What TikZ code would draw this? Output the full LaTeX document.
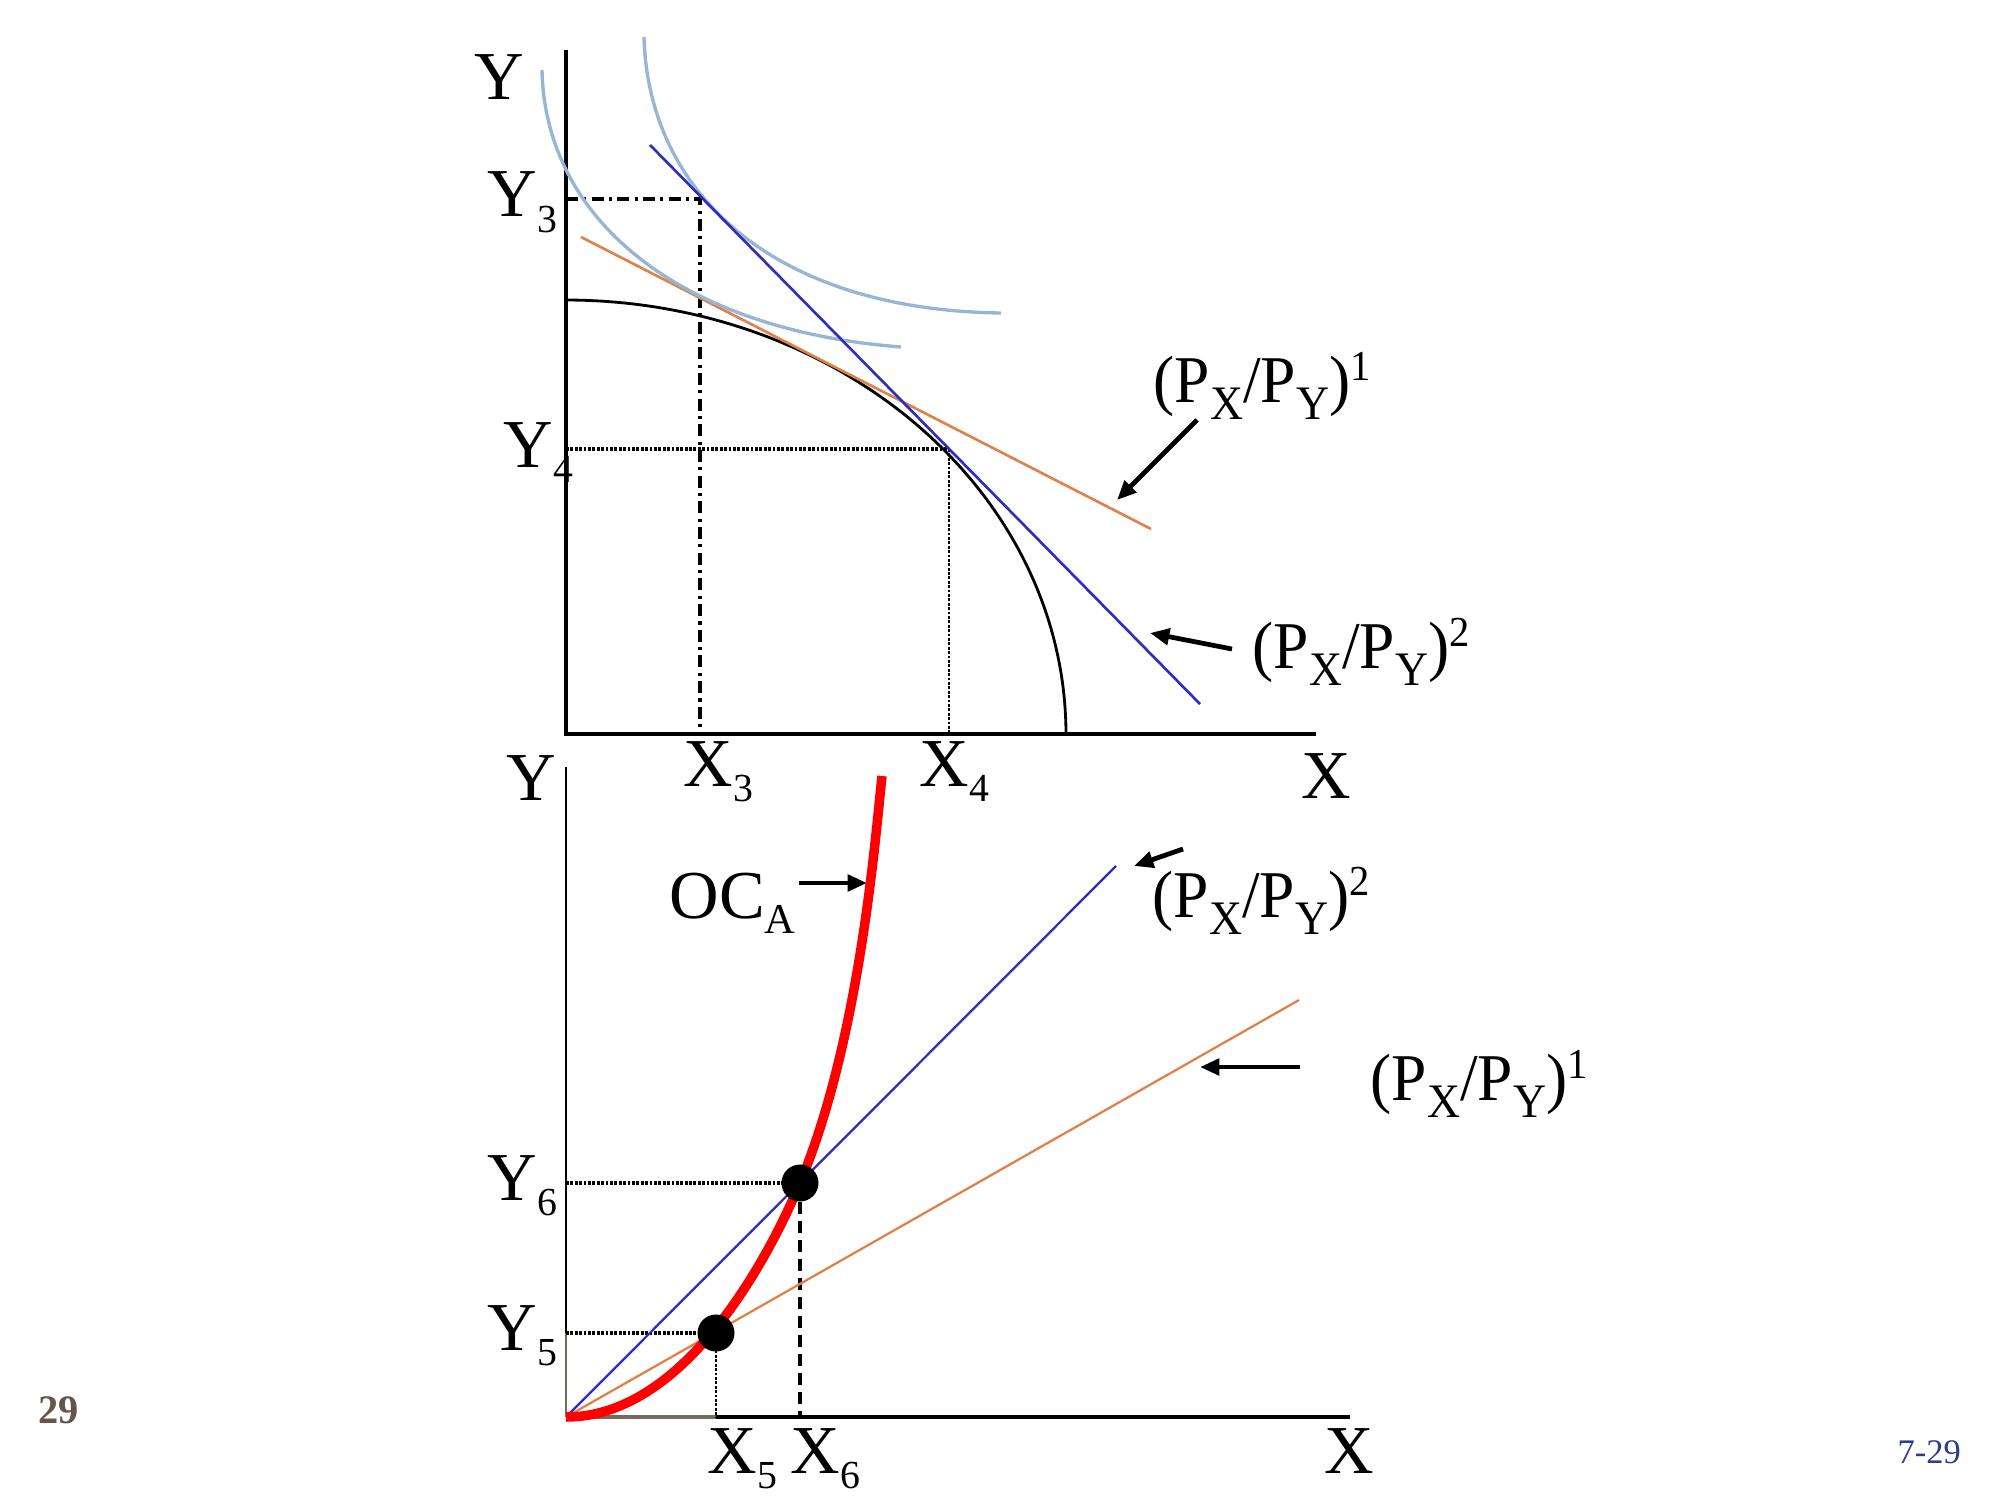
\documentclass[tikz,border=0pt]{standalone}
\usepackage{fontspec}
\setmainfont{Liberation Serif}
\usepackage{graphicx}
\usetikzlibrary{arrows.meta}
\definecolor{lineorange}{RGB}{221,130,74}
\definecolor{lineblue}{RGB}{45,45,195}
\definecolor{icblue}{RGB}{150,182,212}
\definecolor{ocred}{RGB}{255,0,0}
\definecolor{axbrown}{RGB}{120,105,95}
\definecolor{pagebrown}{RGB}{100,85,75}
\definecolor{pageblue}{RGB}{45,60,140}
\newcommand{\lo}[2][0.58]{\raisebox{-0.22em}{\scalebox{#1}{#2}}}
\newcommand{\psub}[1]{\raisebox{-0.26em}{\scalebox{0.72}{#1}}}
\newcommand{\psup}[1]{\raisebox{0.32em}{\scalebox{0.64}{#1}}}
\newcommand{\pr}[1]{\scalebox{0.95}[1]{(P\psub{X}/P\psub{Y})\psup{#1}}}
\begin{document}
\begin{tikzpicture}[x=0.01cm,y=-0.01cm,
  axislbl/.style={font=\fontsize{19.5}{22}\selectfont, inner sep=0, anchor=base west},
  pricelbl/.style={font=\fontsize{19}{22}\selectfont, inner sep=0, anchor=base west},
  axisline/.style={line width=0.9pt, black},
  ppfline/.style={line width=0.8pt, black},
  budget1/.style={line width=0.75pt, lineorange},
  budget2/.style={line width=0.75pt, lineblue},
  icurve/.style={line width=0.95pt, icblue},
  dashdotline/.style={line width=1.1pt, dash pattern=on 3.4pt off 1.5pt on 0.9pt off 1.5pt},
  dotline/.style={line width=1pt, dash pattern=on 0.8pt off 0.45pt},
  finedot/.style={line width=0.6pt, dash pattern=on 0.8pt off 0.45pt},
  dashline/.style={line width=1pt, dash pattern=on 3.4pt off 2pt},
  pointer/.style={line width=1.35pt, -{Triangle[length=5.5pt,width=4.6pt]}},
  ocline/.style={line width=2.7pt, ocred},
  bigdot/.style={circle, fill=black, minimum size=37*0.01cm, inner sep=0}
]
\useasboundingbox (0,0) rectangle (2000,1500);

% ---------------- upper panel ----------------
\coordinate (O1) at (566,734);
\coordinate (Ytop1) at (566,50);
\coordinate (Xend1) at (1316,734);
\draw[axisline] (Ytop1) -- (O1) -- (Xend1);

% guide lines
\coordinate (Y3p) at (566,199);
\coordinate (C3) at (700,199);
\coordinate (X3p) at (700,734);
\draw[dashdotline] (Y3p) -- (C3) -- (X3p);
\coordinate (Y4p) at (566,449);
\coordinate (C4) at (949,449);
\coordinate (X4p) at (949,734);
\draw[dotline] (Y4p) -- (C4);
\draw[finedot] (C4) -- (X4p);

% production possibility frontier
\draw[ppfline] plot[domain=0:90, samples=80] ({566+500*cos(\x)}, {734-434*sin(\x)});

% price line 1
\coordinate (P1a) at (581,237);
\coordinate (P1b) at (1151,529);
\draw[budget1] (P1a) -- (P1b);

% indifference curves
\coordinate (I1a) at (542,70);
\coordinate (I1b) at (901,347);
\draw[icurve] (I1a) .. controls (545,220) and (680,330) .. (I1b);
\coordinate (I2a) at (644,37);
\coordinate (I2b) at (1001,313);
\draw[icurve] (I2a) .. controls (648,190) and (770,310) .. (I2b);

% price line 2
\coordinate (P2a) at (650,145);
\coordinate (P2b) at (1200,704);
\draw[budget2] (P2a) -- (P2b);

% labels
\node[axislbl] (lY1) at (474,100) {Y};
\node[axislbl] (lY3) at (487,217) {Y\lo{3}};
\node[axislbl] (lY4) at (503,467) {Y\lo{4}};
\node[axislbl] (lX3) at (683,786) {X\lo{3}};
\node[axislbl] (lX4) at (919,786) {X\lo{4}};
\node[axislbl] (lX1) at (1301,798) {X};

\node[pricelbl] (pu1) at (1153,402) {\pr{1}};
\node[pricelbl] (pu2) at (1252,668) {\pr{2}};
\coordinate (au1s) at (1197,420);
\coordinate (au1e) at (1117,500);
\draw[pointer] (au1s) -- (au1e);
\coordinate (au2s) at (1232,649);
\coordinate (au2e) at (1150,633);
\draw[pointer] (au2s) -- (au2e);

% ---------------- lower panel ----------------
\coordinate (O2) at (566,1417);
\coordinate (Ytop2) at (566,767);
\coordinate (Xend2) at (1350,1417);
\coordinate (Y5p) at (566,1333);
\coordinate (X5p) at (716,1417);
\coordinate (X6p) at (800,1417);
\coordinate (Y6p) at (566,1183);
\draw[line width=0.6pt, black] (Ytop2) -- (Y5p);
\draw[line width=0.6pt, axbrown] (Y5p) -- (O2);
\draw[line width=1.1pt, axbrown] (O2) -- (X5p);
\draw[line width=1.1pt, black] (X5p) -- (Xend2);

\coordinate (E5) at (716,1333);
\coordinate (E6) at (800,1183);
\draw[dotline] (Y6p) -- (E6);
\draw[dashline] (E6) -- (X6p);
\draw[dotline] (Y5p) -- (E5);
\draw[finedot] (E5) -- (X5p);

\coordinate (L2end) at (1116,866);
\coordinate (L1end) at (1299,1000);
\draw[line width=0.65pt, lineblue] (O2) -- (L2end);
\draw[line width=0.65pt, lineorange] (O2) -- (L1end);

\coordinate (OCtop) at (882,776);
\draw[ocline] (O2) .. controls (686,1417) and (770,1254.7) .. (E6)
  .. controls (860,1039.6) and (875.4,836) .. (OCtop);

\node[bigdot] (d5) at (E5) {};
\node[bigdot] (d6) at (E6) {};

\node[axislbl] (lY2) at (506,800) {Y};
\node[axislbl] (lY6) at (487,1200) {Y\lo{6}};
\node[axislbl] (lY5) at (487,1350) {Y\lo{5}};
\node[axislbl] (lX5) at (707,1473) {X\lo{5}};
\node[axislbl] (lX6) at (790,1473) {X\lo{6}};
\node[axislbl] (lX2) at (1324,1473) {X};
\node[axislbl] (loc) at (669,918) {OC\lo[0.62]{A}};
\coordinate (aocs) at (799,883);
\coordinate (aoce) at (867,883);
\draw[pointer] (aocs) -- (aoce);

\node[pricelbl] (pl2) at (1152,917) {\pr{2}};
\node[pricelbl] (pl1) at (1370,1100) {\pr{1}};
\coordinate (al2s) at (1183,849);
\coordinate (al2e) at (1134,866);
\draw[pointer] (al2s) -- (al2e);
\coordinate (al1s) at (1300,1067);
\coordinate (al1e) at (1200,1067);
\draw[pointer] (al1s) -- (al1e);

% page marks
\node[inner sep=0, anchor=base west, font=\fontsize{11.5}{13}\selectfont\bfseries, text=pagebrown] (pg) at (38,1423) {29};
\node[inner sep=0, anchor=base west, font=\fontsize{9.8}{12}\selectfont, text=pageblue] (sl) at (1897,1463) {7-29};
\end{tikzpicture}
\end{document}
